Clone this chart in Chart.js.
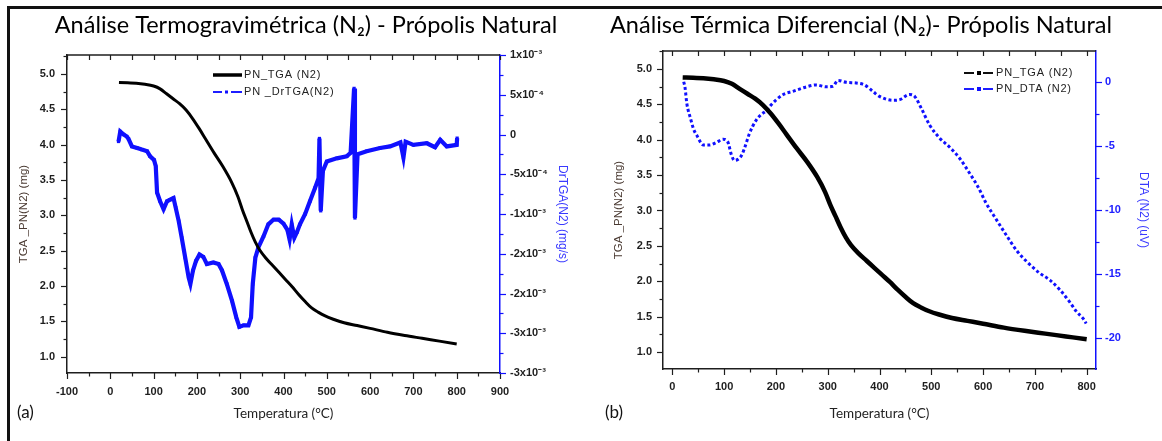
<!DOCTYPE html>
<html>
<head>
<meta charset="utf-8">
<script src="https://cdn.jsdelivr.net/npm/chart.js@4.4.1/dist/chart.umd.min.js"></script>
<style>
  body { margin: 0; background: #fff; width: 1162px; height: 441px; overflow: hidden; position: relative; }
  canvas { position: absolute; top: 0; }
  #tgaChart { left: 0; }
  #dtaChart { left: 560px; }
  .frame { position: absolute; left: 7px; top: 6px; right: -5px; bottom: -5px; border-top: 3px solid #111; border-left: 3px solid #111; }
  .panel { position: absolute; top: 401px; font: 17px Lato, sans-serif; color: #111; }
</style>
</head>
<body>
<div class="frame"></div>
<canvas id="tgaChart" width="612" height="441"></canvas>
<canvas id="dtaChart" width="602" height="441"></canvas>
<div class="panel" style="left:17px">(a)</div>
<div class="panel" style="left:605px">(b)</div>
<script>
// PN_TGA (N2) - mass (mg) vs temperature (°C), same run in both panels
const tgaTemp = [20, 40, 60, 80, 100, 115, 130, 145, 160, 175, 190, 205, 220, 240, 260, 280, 295, 305, 315, 325,
  335, 345, 360, 375, 390, 405, 420, 435, 450, 465, 480, 495, 515, 540, 570, 600, 640, 680, 720, 760, 800];
const tgaMass = [4.88, 4.875, 4.87, 4.855, 4.83, 4.79, 4.72, 4.65, 4.58, 4.49, 4.37, 4.23, 4.08, 3.88, 3.69, 3.47, 3.26, 3.08, 2.92, 2.76,
  2.62, 2.51, 2.39, 2.29, 2.19, 2.09, 1.99, 1.88, 1.78, 1.69, 1.63, 1.58, 1.53, 1.48, 1.44, 1.40, 1.345, 1.30, 1.26, 1.22, 1.18];

// PN _DrTGA(N2) - mg/s
const drtgaTemp = [19, 23, 31, 38, 42, 50, 62, 73, 85, 92, 101, 105, 108, 115, 123, 131, 138, 146, 151, 158,
  165, 173, 181, 185, 191, 198, 206, 215, 223, 238, 250, 258, 269, 281, 291, 298, 308, 319, 325, 329,
  335, 342, 354, 365, 377, 389, 400, 409, 414, 419, 425, 431, 438, 450, 461, 473, 481, 483, 486, 491,
  500, 523, 546, 555, 563, 565, 571, 592, 623, 646, 670, 677, 682, 700, 731, 750, 762, 777, 800, 801];
const drtgaValue = [-8.8e-5, 3.8e-5, 0, -2.5e-5, -5.4e-5, -1.5e-4, -1.7e-4, -1.9e-4, -2.1e-4, -2.75e-4, -3.2e-4, -4.0e-4, -7.3e-4, -8.4e-4, -9.4e-4, -8.4e-4, -8.2e-4, -8.0e-4, -9.2e-4, -1.09e-3,
  -1.30e-3, -1.55e-3, -1.80e-3, -1.88e-3, -1.71e-3, -1.59e-3, -1.51e-3, -1.54e-3, -1.63e-3, -1.61e-3, -1.63e-3, -1.71e-3, -1.88e-3, -2.09e-3, -2.30e-3, -2.42e-3, -2.40e-3, -2.40e-3, -2.30e-3, -1.88e-3,
  -1.55e-3, -1.42e-3, -1.28e-3, -1.13e-3, -1.07e-3, -1.07e-3, -1.12e-3, -1.20e-3, -1.32e-3, -1.13e-3, -1.30e-3, -1.23e-3, -1.13e-3, -1.00e-3, -8.4e-4, -6.7e-4, -5.5e-4, -5e-5, -9.6e-4, -4.6e-4,
  -3.4e-4, -3.0e-4, -2.75e-4, -2.3e-4, 5.8e-4, -1.05e-3, -2.5e-4, -2.1e-4, -1.7e-4, -1.5e-4, -1.0e-4, -2.9e-4, -9e-5, -1.3e-4, -1.1e-4, -1.6e-4, -6.7e-5, -1.5e-4, -1.3e-4, -4.6e-5];

// PN_DTA (N2) - uV
const dtaTemp = [22, 24.5, 28, 35, 41, 48, 60, 72, 85, 98, 107, 114, 120, 129, 135, 141, 148, 155, 162, 172,
  182, 191, 201, 214, 233, 259, 278, 297, 310, 320, 336, 355, 371, 387, 400, 426, 439, 458, 468, 481,
  497, 516, 535, 555, 574, 590, 606, 626, 645, 664, 684, 709, 729, 748, 767, 780, 793, 799];
const dtaValue = [0.0, -0.45, -1.7, -2.85, -3.7, -4.25, -4.95, -4.95, -4.75, -4.5, -4.7, -5.7, -6.15, -6.0, -5.65, -5.0, -4.15, -3.5, -3.0, -2.55,
  -2.25, -1.8, -1.4, -1.0, -0.75, -0.4, -0.25, -0.4, -0.35, 0.1, -0.05, -0.1, -0.25, -0.75, -1.15, -1.45, -1.4, -1.0, -1.15, -2.1,
  -3.4, -4.4, -5.1, -6.0, -7.15, -8.2, -9.5, -10.8, -12.0, -13.15, -14.05, -14.95, -15.5, -16.25, -17.2, -17.95, -18.5, -18.9];

// axis ticks
const tempTicksA = [-100, 0, 100, 200, 300, 400, 500, 600, 700, 800, 900];
const tempTicksB = [0, 100, 200, 300, 400, 500, 600, 700, 800];
const massTicks = [1.0, 1.5, 2.0, 2.5, 3.0, 3.5, 4.0, 4.5, 5.0];
const drtgaTicks = [-0.003, -0.0025, -0.002, -0.0015, -0.001, -0.0005, 0, 0.0005, 0.001];
const drtgaTickLabels = ['-3x10⁻³', '-3x10⁻³', '-2x10⁻³', '-2x10⁻³', '-1x10⁻³', '-5x10⁻⁴', '0', '5x10⁻⁴', '1x10⁻³'];
const dtaTicks = [-20, -15, -10, -5, 0];

const BLUE = '#1010ff';
const INK = '#1e1e1e';
const tickFont = { family: 'Liberation Sans, Arial, sans-serif', size: 11, weight: 'bold' };

function pts(xs, ys) {
  return xs.map((x, i) => ({ x: x, y: ys[i] }));
}
function fixTicks(list) {
  return scale => { scale.ticks = list.map(v => ({ value: v })); };
}

// major / minor tick marks, mirrored top ticks and the top frame line
const tickMarks = {
  id: 'tickMarks',
  afterDraw(chart, args, opts) {
    const { ctx, chartArea: area } = chart;
    ctx.save();
    ctx.strokeStyle = INK;
    ctx.lineWidth = 1.5;
    ctx.beginPath();
    ctx.moveTo(area.left, area.top);
    ctx.lineTo(area.right, area.top);
    ctx.stroke();
    opts.axes.forEach(ax => {
      const scale = chart.scales[ax.id];
      const step = ax.ticks[1] - ax.ticks[0];
      const marks = ax.ticks.map(v => [v, 6]);
      ax.ticks.forEach(v => marks.push([v + step / 2, 3.5]));
      marks.push([ax.ticks[0] - step / 2, 3.5]);
      ctx.strokeStyle = ax.color;
      ctx.lineWidth = 1.2;
      marks.forEach(([v, len]) => {
        if (v < scale.min - 1e-12 || v > scale.max + 1e-12) return;
        const p = Math.round(scale.getPixelForValue(v)) + 0.5;
        ctx.beginPath();
        if (ax.id === 'x') {
          ctx.moveTo(p, area.bottom);
          ctx.lineTo(p, area.bottom + len);
          ctx.moveTo(p, area.top);
          ctx.lineTo(p, area.top + 5);
        } else if (scale.position === 'left') {
          ctx.moveTo(area.left, p);
          ctx.lineTo(area.left - len, p);
        } else {
          ctx.moveTo(area.right, p);
          ctx.lineTo(area.right + len, p);
        }
        ctx.stroke();
      });
    });
    ctx.restore();
  }
};

// legend drawn inside the plot at a fixed spot
const panelLegend = {
  id: 'panelLegend',
  afterDraw(chart, args, opts) {
    const ctx = chart.ctx;
    ctx.save();
    ctx.font = '11px "Liberation Sans", Arial, sans-serif';
    ctx.letterSpacing = '0.8px';
    ctx.textBaseline = 'middle';
    chart.data.datasets.forEach((ds, i) => {
      const x = opts.x, y = opts.y + i * opts.gap, style = opts.styles[i];
      ctx.strokeStyle = ds.borderColor;
      ctx.fillStyle = ds.borderColor;
      ctx.beginPath();
      if (style === 'solid') {
        ctx.lineWidth = 3.5;
        ctx.moveTo(x, y); ctx.lineTo(x + 29, y);
      } else if (style === 'dashdot') {
        ctx.lineWidth = 1.5;
        ctx.moveTo(x, y); ctx.lineTo(x + 9, y);
        ctx.moveTo(x + 12, y); ctx.lineTo(x + 15, y);
        ctx.moveTo(x + 18, y); ctx.lineTo(x + 29, y);
        ctx.stroke();
        ctx.fillRect(x + 12, y - 1.5, 3, 3);
      } else {
        ctx.lineWidth = 1.5;
        ctx.moveTo(x, y); ctx.lineTo(x + 10, y);
        ctx.moveTo(x + 19, y); ctx.lineTo(x + 29, y);
        ctx.stroke();
        ctx.fillRect(x + 13, y - 2, 4, 4);
      }
      ctx.stroke();
      ctx.fillStyle = '#222';
      ctx.fillText(ds.label, x + opts.textGap, y);
    });
    ctx.restore();
  }
};

const chartA = new Chart(document.getElementById('tgaChart'), {
  type: 'line',
  data: {
    datasets: [{
      label: 'PN_TGA (N2)',
      data: pts(tgaTemp, tgaMass),
      yAxisID: 'y',
      borderColor: '#000',
      borderWidth: 3,
      pointRadius: 0,
      cubicInterpolationMode: 'monotone'
    }, {
      label: 'PN _DrTGA(N2)',
      data: pts(drtgaTemp, drtgaValue),
      yAxisID: 'y1',
      borderColor: BLUE,
      backgroundColor: BLUE,
      borderWidth: 4.2,
      pointStyle: 'rect',
      pointRadius: 2.3,
      pointBorderWidth: 0,
      tension: 0
    }]
  },
  options: {
    responsive: false,
    animation: false,
    events: [],
    layout: { padding: 0 },
    plugins: {
      legend: { display: false },
      tooltip: { enabled: false },
      title: {
        display: true,
        text: 'Análise Termogravimétrica (N₂) - Própolis Natural',
        color: '#000',
        font: { family: 'Lato', size: 23.5, weight: 'normal' },
        padding: { top: 11, bottom: 15.8 }
      },
      tickMarks: { axes: [
        { id: 'x', ticks: tempTicksA, color: INK },
        { id: 'y', ticks: massTicks, color: INK },
        { id: 'y1', ticks: drtgaTicks, color: BLUE }
      ] },
      panelLegend: { x: 213, y: 75, gap: 17, textGap: 31, styles: ['solid', 'dashdot'] }
    },
    scales: {
      x: {
        type: 'linear', position: 'bottom', min: -100, max: 900,
        afterBuildTicks: fixTicks(tempTicksA),
        afterFit: s => { s.height = 68; },
        grid: { display: false, drawTicks: false },
        border: { display: true, color: INK, width: 1.5 },
        ticks: { padding: 12, font: tickFont, color: INK, maxRotation: 0, autoSkip: false },
        title: { display: true, text: 'Temperatura (°C)', color: '#222',
          font: { family: 'Lato', size: 13.5 }, padding: { top: 0, bottom: 18.9 } }
      },
      y: {
        type: 'linear', position: 'left', min: 0.769, max: 5.269,
        afterBuildTicks: fixTicks(massTicks),
        afterFit: s => { s.width = 67; },
        grid: { display: false, drawTicks: false },
        border: { display: true, color: INK, width: 1.5 },
        ticks: { padding: 12, font: tickFont, color: INK, autoSkip: false, callback: v => v.toFixed(1) },
        title: { display: true, text: 'TGA _PN(N2) (mg)', color: '#4a3a32',
          font: { family: 'Liberation Sans', size: 11.5 }, padding: { top: 17.1, bottom: 0 } }
      },
      y1: {
        type: 'linear', position: 'right', min: -0.003, max: 0.001,
        afterBuildTicks: fixTicks(drtgaTicks),
        afterFit: s => { s.width = 112; },
        grid: { display: false, drawTicks: false },
        border: { display: true, color: BLUE, width: 1.5 },
        ticks: { padding: 10, font: tickFont, color: INK, autoSkip: false,
          callback: (v, i) => drtgaTickLabels[i] },
        title: { display: true, text: 'DrTGA(N2) (mg/s)', color: '#3a3aff',
          font: { family: 'Liberation Sans', size: 12 }, padding: { top: 42.8, bottom: 0 } }
      }
    }
  },
  plugins: [tickMarks, panelLegend]
});

const chartB = new Chart(document.getElementById('dtaChart'), {
  type: 'line',
  data: {
    datasets: [{
      label: 'PN_TGA (N2)',
      data: pts(tgaTemp, tgaMass),
      yAxisID: 'y',
      borderColor: '#000',
      borderWidth: 4.5,
      pointRadius: 0,
      cubicInterpolationMode: 'monotone'
    }, {
      label: 'PN_DTA (N2)',
      data: pts(dtaTemp, dtaValue),
      yAxisID: 'y1',
      borderColor: BLUE,
      borderWidth: 3,
      borderDash: [3, 2.5],
      pointRadius: 0,
      cubicInterpolationMode: 'monotone'
    }]
  },
  options: {
    responsive: false,
    animation: false,
    events: [],
    layout: { padding: 0 },
    plugins: {
      legend: { display: false },
      tooltip: { enabled: false },
      title: {
        display: true,
        text: 'Análise Térmica Diferencial (N₂)- Própolis Natural',
        color: '#000',
        font: { family: 'Lato', size: 23.5, weight: 'normal' },
        padding: { top: 11, bottom: 11.8 }
      },
      tickMarks: { axes: [
        { id: 'x', ticks: tempTicksB, color: INK },
        { id: 'y', ticks: massTicks, color: INK },
        { id: 'y1', ticks: dtaTicks, color: BLUE }
      ] },
      panelLegend: { x: 404, y: 73, gap: 16, textGap: 32, styles: ['dashsquare', 'dashsquare'] }
    },
    scales: {
      x: {
        type: 'linear', position: 'bottom', min: -18, max: 818,
        afterBuildTicks: fixTicks(tempTicksB),
        afterFit: s => { s.height = 72; },
        grid: { display: false, drawTicks: false },
        border: { display: true, color: INK, width: 1.5 },
        ticks: { padding: 11, font: tickFont, color: INK, maxRotation: 0, autoSkip: false },
        title: { display: true, text: 'Temperatura (°C)', color: '#222',
          font: { family: 'Lato', size: 13.5 }, padding: { top: 0, bottom: 18.9 } }
      },
      y: {
        type: 'linear', position: 'left', min: 0.76, max: 5.254,
        afterBuildTicks: fixTicks(massTicks),
        afterFit: s => { s.width = 103; },
        grid: { display: false, drawTicks: false },
        border: { display: true, color: INK, width: 1.5 },
        ticks: { padding: 11, font: tickFont, color: INK, autoSkip: false, callback: v => v.toFixed(1) },
        title: { display: true, text: 'TGA _PN(N2) (mg)', color: '#4a3a32',
          font: { family: 'Liberation Sans', size: 11.5 }, padding: { top: 52.1, bottom: 0 } }
      },
      y1: {
        type: 'linear', position: 'right', min: -22.45, max: 2.4,
        afterBuildTicks: fixTicks(dtaTicks),
        afterFit: s => { s.width = 66; },
        grid: { display: false, drawTicks: false },
        border: { display: true, color: BLUE, width: 1.5 },
        ticks: { padding: 9, font: tickFont, color: '#2020ff', autoSkip: false },
        title: { display: true, text: 'DTA (N2) (uV)', color: '#3a3aff',
          font: { family: 'Liberation Sans', size: 12 }, padding: { top: 11.8, bottom: 0 } }
      }
    }
  },
  plugins: [tickMarks, panelLegend]
});
</script>
</body>
</html>
